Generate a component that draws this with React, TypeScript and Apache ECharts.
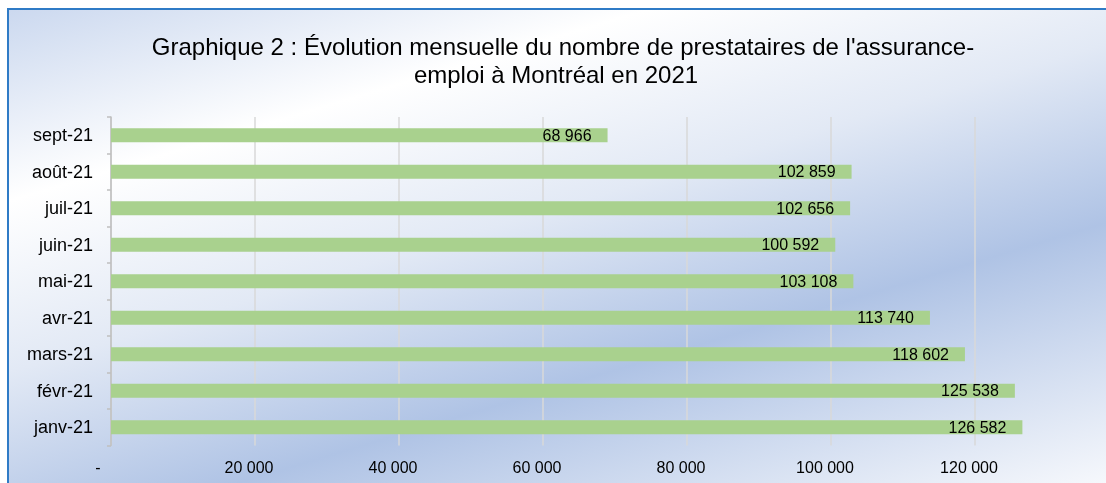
import React, { useEffect, useRef } from "react";
import * as echarts from "echarts";

const categories = ["janv-21", "févr-21", "mars-21", "avr-21", "mai-21", "juin-21", "juil-21", "août-21", "sept-21"];
const values = [126582, 125538, 118602, 113740, 103108, 100592, 102656, 102859, 68966];
const titleLines = ["Graphique 2 : Évolution mensuelle du nombre de prestataires de l'assurance-", "emploi à Montréal en 2021"];

const fmt = (v: number) => String(v).replace(/\B(?=(\d{3})+(?!\d))/g, " ");

export default function App() {
  const ref = useRef<HTMLDivElement>(null);
  useEffect(() => {
    const chart = echarts.init(ref.current!, null, { renderer: "svg" });
    const font = "Liberation Sans, Arial, sans-serif";
    chart.setOption({
      animation: false,
      graphic: [
        {
          type: "rect",
          z: -10,
          silent: true,
          shape: { x: 8, y: 9, width: 1120, height: 500 },
          style: {
            fill: new echarts.graphic.LinearGradient(
              0,
              0,
              224,
              748,
              [
                { offset: 0, color: "#c8d6ee" },
                { offset: 0.25, color: "#ffffff" },
                { offset: 0.46, color: "#e2e9f5" },
                { offset: 0.68, color: "#afc3e5" },
                { offset: 1, color: "#f6f8fc" },
              ],
              true
            ),
            stroke: "#2f7bc6",
            lineWidth: 2,
          },
        },
        {
          type: "text",
          x: 563,
          y: 46,
          style: { text: titleLines[0], font: `24px ${font}`, fill: "#000", align: "center", verticalAlign: "middle" },
        },
        {
          type: "text",
          x: 556,
          y: 74,
          style: { text: titleLines[1], font: `24px ${font}`, fill: "#000", align: "center", verticalAlign: "middle" },
        },
      ],
      grid: { left: 111, top: 117, width: 1008, height: 328.5, containLabel: false, outerBoundsMode: "none" },
      xAxis: {
        type: "value",
        min: 0,
        max: 140000,
        interval: 20000,
        axisLine: { show: false },
        axisTick: { show: false },
        splitLine: { show: true, lineStyle: { color: "#d9d9d9", width: 1.5 } },
        axisLabel: {
          margin: 14,
          color: "#000",
          fontFamily: font,
          fontSize: 16,
          formatter: (v: number) => (v === 0 ? "{z|-}" : v >= 140000 ? "" : "{a|" + fmt(v) + "}"),
          rich: {
            a: { fontFamily: font, fontSize: 16, color: "#000", padding: [0, 12, 0, 0] },
            z: { fontFamily: font, fontSize: 16, color: "#000", padding: [0, 26, 0, 0] },
          },
        },
      },
      yAxis: {
        type: "category",
        data: categories,
        axisLine: { show: true, lineStyle: { color: "#bfbfbf", width: 1.5 } },
        axisTick: { show: true, length: 4, lineStyle: { color: "#bfbfbf", width: 1.5 } },
        axisLabel: { margin: 18, color: "#000", fontFamily: font, fontSize: 18 },
      },
      series: [
        {
          type: "bar",
          data: values,
          barWidth: 14,
          itemStyle: { color: "#a9d18e" },
          label: {
            show: true,
            position: "insideRight",
            distance: 16,
            color: "#000",
            fontFamily: font,
            fontSize: 16,
            formatter: (p: any) => fmt(p.value),
          },
        },
      ],
    });
    return () => chart.dispose();
  }, []);
  return <div ref={ref} style={{ position: "fixed", left: 0, top: 0, width: 1106, height: 483 }} />;
}
